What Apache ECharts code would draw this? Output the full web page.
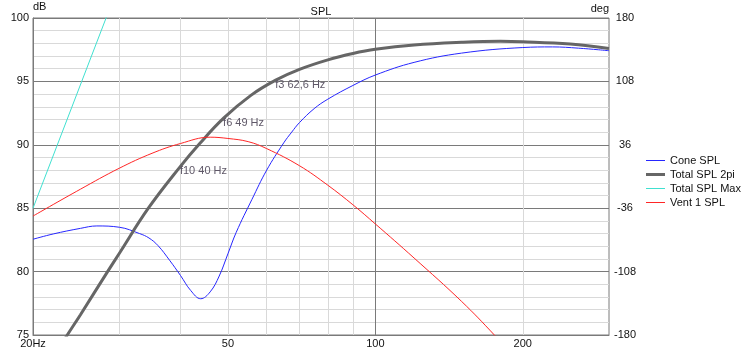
<!DOCTYPE html>
<html>
<head>
<meta charset="utf-8">
<script src="https://cdn.jsdelivr.net/npm/echarts@6/dist/echarts.min.js"></script>
<style>
  html, body { margin: 0; padding: 0; background: #fff; }
  #chart { width: 745px; height: 353px; }
</style>
</head>
<body>
<div id="chart"></div>
<script>
// taajuudet (Hz) ja tasot (dB) luettu kuvasta
const freqCone = [20, 22, 25, 27, 30, 33, 34.5, 36, 38, 40, 42, 44, 46, 48, 50, 52, 56, 60, 65, 67.5, 70, 75, 80, 90, 100, 120, 150, 200, 230, 260, 300];
const coneSpl = [82.55, 82.97, 83.41, 83.6, 83.5, 83.0, 82.65, 82.05, 80.9, 79.7, 78.5, 77.86, 78.4, 79.65, 81.4, 83.1, 85.7, 88.0, 90.15, 91.0, 91.75, 92.85, 93.6, 94.68, 95.5, 96.5, 97.23, 97.67, 97.72, 97.62, 97.42];

const freqTotal = [20, 23.5, 25, 28.4, 30, 34.4, 40, 43.8, 49, 55.7, 62.6, 70, 80, 90, 100, 120, 150, 180, 200, 250, 300];
const totalSpl2pi = [70.7, 75, 76.6, 80, 81.43, 85, 88.3, 90.1, 92.1, 93.9, 95.1, 95.95, 96.7, 97.2, 97.53, 97.87, 98.08, 98.16, 98.13, 97.95, 97.6];

const freqMax = [20, 28.2, 32];
const totalSplMax = [85, 100, 105.5];

const freqVent = [20, 25, 30, 35, 40, 46, 50, 55, 60, 70, 80, 90, 100, 120, 150, 175, 200, 250, 300];
const ventSpl = [84.38, 86.5, 88.15, 89.33, 90.1, 90.6, 90.5, 90.25, 89.7, 88.35, 86.81, 85.27, 83.76, 81.07, 77.65, 75.0, 72.5, 68.0, 64.0];

// merkinnät (rajataajuudet)
const markNames = ['f3 62,6 Hz', 'f6 49 Hz', 'f10 40 Hz'];
const markFreqs = [62.6, 49, 40];
const markLevels = [95.1, 92.1, 88.3];

const xLabelFreqs = [20, 50, 100, 200];
const xGridFreqs = [30, 40, 50, 60, 70, 80, 90, 100, 200];

const seriesNames = ['Cone SPL', 'Total SPL 2pi', 'Total SPL Max', 'Vent 1 SPL'];
const seriesColors = ['#2626ff', '#666666', '#40e0d0', '#ff2626'];
const seriesWidths = [1, 3, 1, 1];

const lg = Math.log10;
const toPoints = (fs, vs) => fs.map((f, i) => [lg(f), vs[i]]);

const font = 'Liberation Sans, Arial, sans-serif';
const light = '#d9d9d9';
const dark = '#7a7a7a';

let myChart = echarts.init(document.getElementById('chart'));

const lineSeries = (i, fs, vs, smooth) => ({
    name: seriesNames[i],
    type: 'line',
    data: toPoints(fs, vs),
    smooth: smooth,
    symbol: 'none',
    showSymbol: false,
    clip: true,
    lineStyle: { color: seriesColors[i], width: seriesWidths[i] },
    itemStyle: { color: seriesColors[i] },
    emphasis: { disabled: true }
});

const total = lineSeries(1, freqTotal, totalSpl2pi, 0.4);
total.markPoint = {
    symbol: 'circle',
    symbolSize: 1,
    itemStyle: { color: 'rgba(0,0,0,0)' },
    label: {
        show: true,
        position: [0, 0],
        align: 'left',
        verticalAlign: 'top',
        color: '#5f5868',
        fontSize: 11,
        fontFamily: font,
        formatter: p => p.name
    },
    data: markNames.map((n, i) => ({ name: n, coord: [lg(markFreqs[i]), markLevels[i]] }))
};

const option = {
    animation: false,
    textStyle: { fontFamily: font },
    title: {
        text: 'SPL',
        left: 316,
        textAlign: 'center',
        top: 1,
        textStyle: { fontSize: 11, fontWeight: 'normal', color: '#111', fontFamily: font }
    },
    legend: {
        orient: 'vertical',
        left: 641,
        top: 149,
        itemWidth: 19,
        itemHeight: 11,
        itemGap: 1,
        textStyle: { fontSize: 11, lineHeight: 13, color: '#111', fontFamily: font },
        data: seriesNames.map((n, i) => ({
            name: n,
            icon: 'path://M0,0H19V' + seriesWidths[i] + 'H0Z'
        }))
    },
    grid: {
        left: 33, right: 136, top: 18, bottom: 18,
        show: true, borderColor: dark, borderWidth: 1
    },
    xAxis: {
        type: 'value',
        min: lg(20),
        max: lg(300),
        axisLine: { show: true, onZero: false, lineStyle: { color: dark } },
        axisTick: { show: false, customValues: xGridFreqs.map(lg) },
        axisLabel: {
            customValues: xLabelFreqs.map(lg),
            margin: 3,
            fontSize: 11,
            color: '#111',
            formatter: v => {
                const f = Math.round(Math.pow(10, v));
                return f === 20 ? '20Hz' : String(f);
            }
        },
        splitLine: {
            show: true,
            lineStyle: { color: xGridFreqs.map(f => (f === 100 ? dark : light)), width: 1 }
        }
    },
    yAxis: [{
        type: 'value',
        min: 75,
        max: 100,
        interval: 5,
        name: 'dB',
        nameLocation: 'end',
        nameGap: 2,
        nameTextStyle: { align: 'left', fontSize: 11, color: '#111' },
        axisLine: { show: true, lineStyle: { color: dark } },
        axisTick: { show: false },
        axisLabel: { margin: 4, fontSize: 11, color: '#111' },
        splitLine: { lineStyle: { color: dark, width: 1 } },
        minorTick: { show: false, splitNumber: 5 },
        minorSplitLine: { show: true, lineStyle: { color: light, width: 1 } }
    }, {
        type: 'value',
        position: 'right',
        min: -180,
        max: 180,
        interval: 72,
        name: 'deg',
        nameLocation: 'end',
        nameGap: 4,
        nameTextStyle: { align: 'right', fontSize: 11, color: '#111' },
        axisLine: { show: false },
        axisTick: { show: false },
        axisLabel: { margin: 16, align: 'center', fontSize: 11, color: '#111' },
        splitLine: { show: false }
    }],
    series: [
        lineSeries(0, freqCone, coneSpl, 0.4),
        total,
        lineSeries(2, freqMax, totalSplMax, false),
        lineSeries(3, freqVent, ventSpl, 0.4)
    ]
};

myChart.setOption(option);
</script>
</body>
</html>
